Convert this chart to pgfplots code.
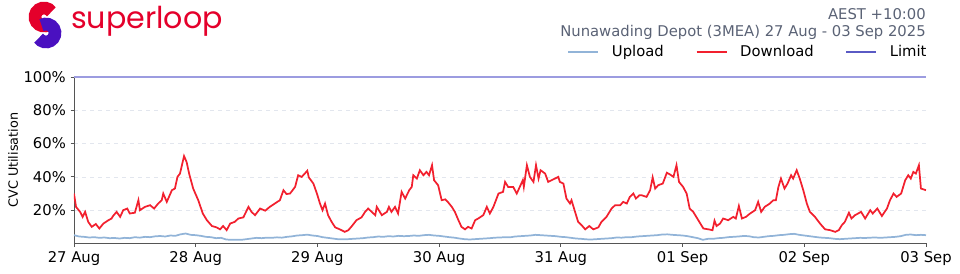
\documentclass[border=0pt]{standalone}
\usepackage{pgfplots}
\pgfplotsset{compat=1.18}
\usepackage{pgfplotstable}
\usepackage{fontspec}
\setmainfont{DejaVu Sans}
\newfontfamily\logofont{Poppins}
\definecolor{slred}{HTML}{E4002B}
\definecolor{slpurple}{HTML}{4A10C0}
\definecolor{dlred}{HTML}{F2202E}
\definecolor{ulblue}{HTML}{92B4D8}
\definecolor{limblue}{HTML}{5A5AC4}
\definecolor{limplot}{HTML}{9C9CE0}
\definecolor{titlegray}{HTML}{5A6275}
\definecolor{axisgray}{HTML}{555555}
\definecolor{gridc}{HTML}{E2E6EE}

\pgfplotstableread{
h v
0 30
0.4 22
1.2 19
1.7 16
2.2 19
2.8 13
3.5 10
4.3 11.7
5.0 9
5.8 12
6.8 14
7.4 15
7.7 16.5
8.4 19
9.1 16
9.7 20
10.5 21
11.0 18
12.0 18.5
12.7 26
13.0 20
14.0 22
15.0 23
15.8 21
16.6 24
17.3 26
17.6 30
18.3 25
19.3 32
19.9 33
20.4 40
20.9 42
21.7 52.5
22.2 49
22.7 42
23.5 33
24.5 26
25.4 18
26.2 14
27.2 10.5
28.1 9.7
28.8 8.5
29.4 10.5
30.1 8
30.8 12
31.7 13
32.4 15
33.4 15.7
34.4 22
35.0 19
35.7 17
36.7 21
37.7 19.7
38.6 22
39.6 24
40.6 26
41.3 32
41.9 29.7
42.6 30
43.6 34
44.2 41
44.9 40
45.5 42
46.0 43.7
46.3 39.7
47.2 36
47.9 30
48.5 24
49.0 20
49.5 24
50.1 17
50.8 13
51.5 9.7
52.4 8.5
53.4 7
54.1 8
54.8 10.5
55.7 14
56.7 15.7
57.4 19
58.0 21
58.7 19
59.4 17
59.7 22
60.7 17
61.7 19
62.1 22
62.6 19
63.3 22
63.9 18
64.6 31
65.3 27
66.1 32
66.6 34
66.9 41
67.6 39
68.2 44
68.9 41
69.5 43
70.0 41
70.6 47
71.0 38
71.8 35
72.5 26
73.2 26.5
73.7 25
74.5 22
75.1 19
75.8 14
76.4 10
77.1 8.5
77.7 10
78.4 9
79.1 14
79.7 15
80.7 17
81.4 22
82.0 18
82.7 22
83.7 30
84.6 31
85.0 37
85.6 34
86.6 34
87.3 30
87.9 34
88.5 38
88.7 34
89.3 47
89.9 40
90.6 37
91.1 47
91.6 39
92.0 44
92.9 42
93.5 37
94.5 38.5
95.5 40
95.8 37
96.5 36
97.1 27
97.8 24
98.1 26
98.8 19
99.4 13
100.1 11
100.8 8.5
101.6 10.5
102.4 8.5
103.4 9.7
104.0 13
105.0 16
106.0 21
106.7 23
107.7 23
108.3 25
109.0 24
109.6 28
110.3 30
110.8 27
111.5 29
111.9 29
112.9 28
113.6 32
114.1 39.7
114.6 33
115.2 35
116.1 36
116.9 42.5
117.5 41.5
118.2 40
118.8 47
119.3 37
120.1 34
120.8 30
121.4 21
122.1 19
123.1 14
124.1 9
125.1 8.5
125.9 8
126.3 13.7
126.7 10.5
127.4 12
128.0 15
129.0 14
130.0 16
130.5 15
131.1 22.5
131.7 15
132.5 16
133.3 18
134.3 20
134.9 25
135.5 19
136.2 22
137.2 24
137.9 26
138.4 26
138.9 34
139.4 39
140.1 33
140.7 36
141.4 41
141.8 39
142.5 44
143.1 39
143.8 32
144.5 24
145.1 19
146.1 16
147.1 12
148.1 8.5
149.1 8
150.1 7
150.8 8
151.4 11
152.0 13
152.8 18.5
153.3 15
154.0 17
155.2 19
156.0 15
157.0 20
157.5 18
158.4 21
159.3 16.5
160.3 21
160.9 26
161.6 30
162.2 28
163.1 30
163.9 38
164.5 41
165.0 39
165.5 43
166.0 42
166.6 47
167.0 33
168.0 32
}\download

\pgfplotstableread{
h v
0 5
1 4.2
2 4
3 3.6
4 3.8
5 3.4
6 3.6
7 3.2
8 3.3
9 3
10 3.4
11 3.2
12 3.8
13 3.5
14 4
15 3.8
16 4.3
17 4.5
18 4.2
19 4.8
20 4.6
21 5.5
22 6
23 5.2
24 5
25 4.6
26 4
27 3.8
28 3.2
29 3.4
30 2.4
31 2.2
32 2.3
33 2.2
34 2.6
35 3
36 3.4
37 3.2
38 3.5
39 3.4
40 3.7
41 3.5
42 4
43 4.3
44 4.8
45 5
46 5.3
47 4.8
48 4.5
49 3.8
50 3.4
51 3
52 2.6
53 2.5
54 2.6
55 2.8
56 3
57 3.2
58 3.6
59 3.8
60 4.2
61 4
62 4.4
63 4.2
64 4.6
65 4.4
66 4.5
67 4.8
68 4.6
69 5
70 5.2
71 4.8
72 4.6
73 4.2
74 3.8
75 3.5
76 3
77 2.6
78 2.4
79 2.6
80 2.8
81 3
82 3.2
83 3.5
84 3.6
85 3.8
86 3.7
87 4.2
88 4.4
89 4.6
90 4.8
91 5.2
92 5
93 4.8
94 4.6
95 4.4
96 4
97 3.8
98 3.4
99 3
100 2.8
101 2.5
102 2.4
103 2.6
104 2.8
105 3
106 3.2
107 3.6
108 3.5
109 3.8
110 3.8
111 4.2
112 4.4
113 4.6
114 4.8
115 5
116 5.4
117 5.5
118 5.2
119 5
120 4.8
121 4.4
122 3.8
123 3.2
124 2.2
125 2.8
126 2.8
127 3.2
128 3.4
129 3.8
130 4
131 4.2
132 4.5
133 4.4
134 3.8
135 3.6
136 4
137 4.4
138 4.6
139 5
140 5.2
141 5.6
142 5.8
143 5.2
144 4.8
145 4.4
146 4
147 3.6
148 3.4
149 3.2
150 2.8
151 2.6
152 2.8
153 3
154 3.2
155 3.4
156 3.3
157 3.5
158 3.6
159 3.4
160 3.6
161 3.8
162 4
163 4.4
164 5.2
165 5.4
166 5
167 5.2
168 5
}\upload

\begin{document}
\begin{tikzpicture}[x=0.75pt,y=0.75pt]
\path[use as bounding box] (0,0) rectangle (960,274);
% logo
\draw[line width=9.5pt, color=slred] (51.37,262.16) arc[start angle=35, end angle=300, radius=9];
\draw[line width=9.5pt, color=slpurple] (41.5,248.79) arc[start angle=120, end angle=-145, radius=9];
\node[anchor=base west, inner sep=0pt, text=slred] at (71,245) {\logofont\fontsize{22.6}{24}\selectfont superloop};
% titles
\node[anchor=base east, inner sep=0pt, text=titlegray] at (926,254.7) {\fontsize{11.1}{13}\selectfont AEST +10:00};
\node[anchor=base east, inner sep=0pt, text=titlegray] at (926,237.3) {\fontsize{11.1}{13}\selectfont Nunawading Depot (3MEA) 27 Aug - 03 Sep 2025};
\begin{axis}[
  at={(55.5pt,22.875pt)}, anchor=south west, scale only axis,
  width=639pt, height=124.875pt,
  xmin=0, xmax=168, ymin=0, ymax=100,
  axis x line*=bottom, axis y line*=left,
  axis line style={color=axisgray, line width=0.6pt},
  xtick={0,24,48,72,96,120,144,168},
  xticklabels={27 Aug,28 Aug,29 Aug,30 Aug,31 Aug,01 Sep,02 Sep,03 Sep},
  ytick={20,40,60,80,100},
  yticklabels={20\%,40\%,60\%,80\%,100\%},
  tick align=outside, major tick length=2.6pt,
  tick style={color=axisgray, line width=0.6pt},
  ymajorgrids, grid style={dashed, color=gridc, line width=0.5pt},
  tick label style={font=\fontsize{11.1}{13}\selectfont, text=black},
  /pgf/number format/assume math mode=true,
  ylabel={CVC Utilisation},
  y label style={at={(axis description cs:-0.0716,0.5)}, anchor=center, font=\fontsize{9.6}{11}\selectfont},
  legend columns=3,
  legend style={at={(1.004,1.150)}, anchor=east, draw=none, fill=none, inner sep=0pt,
    font=\fontsize{11.1}{13}\selectfont,
    /tikz/every odd column/.append style={column sep=7.5pt},
    /tikz/every even column/.append style={column sep=22pt}},
  legend image code/.code={\draw[#1] (0pt,0pt) -- (22.5pt,0pt);},
]
\addplot[color=ulblue, line width=1.3pt, no markers] table[x=h, y=v] {\upload};
\addlegendentry{Upload}
\addplot[color=dlred, line width=1.3pt, no markers] table[x=h, y=v] {\download};
\addlegendentry{Download}
\addplot[color=limplot, line width=1pt, no markers, legend image post style={color=limblue}] coordinates {(0,100) (168,100)};
\addlegendentry{Limit}
\end{axis}
\end{tikzpicture}
\end{document}
